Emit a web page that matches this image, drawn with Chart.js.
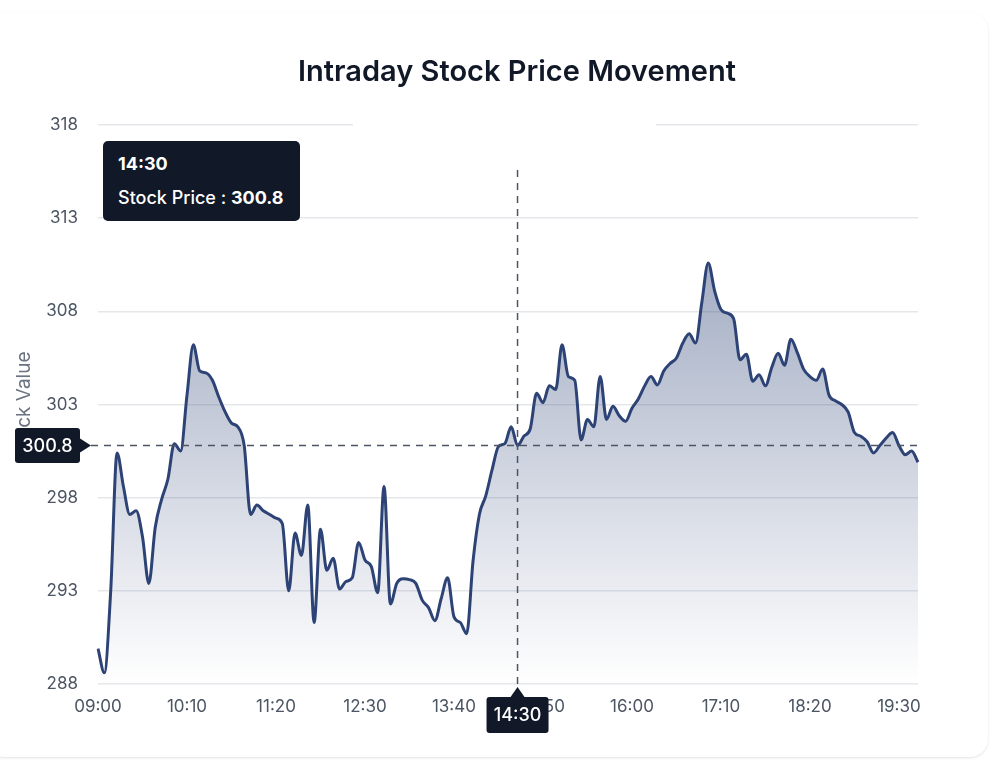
<!DOCTYPE html>
<html>
<head>
<meta charset="utf-8">
<title>Intraday Stock Price Movement</title>
<script src="https://cdn.jsdelivr.net/npm/chart.js@4.4.1/dist/chart.umd.min.js"></script>
<style>
  html, body { margin: 0; padding: 0; background: #fff; }
  body { width: 1000px; height: 760px; position: relative; overflow: hidden; font-family: Inter, "Noto Sans", sans-serif; }
  .card {
    position: absolute; left: -14px; top: 12px; width: 1002px; height: 745px;
    border-radius: 18px; background: #fff;
    box-shadow: 0 1px 3px rgba(0, 0, 0, 0.08), 0 1px 2px rgba(0, 0, 0, 0.04);
  }
  #priceChart { position: absolute; left: 0; top: 0; }
  #chart-tooltip {
    position: absolute; opacity: 0; pointer-events: none;
    background: #111827; color: #fff; border-radius: 5px;
    padding: 11px 16px 11px 15px; font-size: 18px; line-height: 24px; white-space: nowrap;
  }
  #chart-tooltip .tt-title { font-weight: 700; margin-bottom: 10px; }
  #chart-tooltip .tt-body { font-weight: 500; }
  #chart-tooltip .tt-body b { font-weight: 700; }
</style>
</head>
<body>
<div class="card"></div>
<canvas id="priceChart" width="1000" height="760"></canvas>
<div id="chart-tooltip"></div>
<script>
const CHART_TITLE = 'Intraday Stock Price Movement';
const Y_TITLE = 'Stock Value';
const SERIES_LABEL = 'Stock Price';

// 5-minute bars, 09:00 - 19:45
const times = [
  '09:00','09:05','09:10','09:15','09:20','09:25','09:30','09:35','09:40','09:45','09:50','09:55',
  '10:00','10:05','10:10','10:15','10:20','10:25','10:30','10:35','10:40','10:45','10:50','10:55',
  '11:00','11:05','11:10','11:15','11:20','11:25','11:30','11:35','11:40','11:45','11:50','11:55',
  '12:00','12:05','12:10','12:15','12:20','12:25','12:30','12:35','12:40','12:45','12:50','12:55',
  '13:00','13:05','13:10','13:15','13:20','13:25','13:30','13:35','13:40','13:45','13:50','13:55',
  '14:00','14:05','14:10','14:15','14:20','14:25','14:30','14:35','14:40','14:45','14:50','14:55',
  '15:00','15:05','15:10','15:15','15:20','15:25','15:30','15:35','15:40','15:45','15:50','15:55',
  '16:00','16:05','16:10','16:15','16:20','16:25','16:30','16:35','16:40','16:45','16:50','16:55',
  '17:00','17:05','17:10','17:15','17:20','17:25','17:30','17:35','17:40','17:45','17:50','17:55',
  '18:00','18:05','18:10','18:15','18:20','18:25','18:30','18:35','18:40','18:45','18:50','18:55',
  '19:00','19:05','19:10','19:15','19:20','19:25','19:30','19:35','19:40','19:45'
];

const prices = [
  289.9, 288.6, 293.0, 300.4, 298.6, 297.1, 297.3, 295.9, 293.4, 296.4, 297.9, 299.0,
  300.9, 300.5, 303.5, 306.2, 304.8, 304.7, 304.3, 303.4, 302.6, 302.0, 301.8, 300.8,
  297.1, 297.6, 297.3, 297.1, 296.9, 296.6, 293.0, 296.1, 294.9, 297.6, 291.3, 296.3,
  294.1, 294.75, 293.1, 293.5, 293.7, 295.6, 294.65, 294.3, 292.9, 298.6, 292.3, 293.4,
  293.65, 293.6, 293.4, 292.5, 292.1, 291.4, 292.6, 293.7, 291.6, 291.3, 290.7, 294.6,
  297.1, 298.1, 299.5, 300.75, 300.9, 301.8, 300.8, 301.3, 301.7, 303.6, 303.1, 304.0,
  303.8, 306.2, 304.5, 304.3, 301.1, 302.2, 301.8, 304.5, 302.2, 302.9, 302.4, 302.1,
  302.8, 303.3, 304.0, 304.5, 304.05, 304.8, 305.2, 305.5, 306.3, 306.8, 306.3, 308.5,
  310.6, 309.1, 308.1, 307.9, 307.6, 305.4, 305.7, 304.25, 304.6, 304.0, 305.0, 305.75,
  305.1, 306.5, 305.8, 304.9, 304.5, 304.3, 304.9, 303.5, 303.2, 303.0, 302.6, 301.5,
  301.3, 301.0, 300.4, 300.8, 301.2, 301.5, 300.8, 300.3, 300.5, 299.9
];

const xTickLabels = ['09:00', '10:10', '11:20', '12:30', '13:40', '14:50', '16:00', '17:10', '18:20', '19:30'];
const yTicks = [288, 293, 298, 303, 308, 313, 318];

// the hovered bar shown in the picture
const activeTime = '14:30';
const activeIndex = times.indexOf(activeTime);

const LINE_COLOR = '#2d4376';
const BADGE_BG = '#111827';
const qs = (id) => document.getElementById(id);

Chart.defaults.font.family = 'Inter, "Noto Sans", sans-serif';
Chart.defaults.color = '#4b5563';

/**
 * Vertical gradient under the line.
 */
function areaGradient(context) {
    const { ctx, chartArea } = context.chart;
    if (!chartArea) return 'rgba(45, 67, 118, 0.3)';
    const g = ctx.createLinearGradient(0, chartArea.top, 0, chartArea.bottom);
    g.addColorStop(0, 'rgba(45, 67, 118, 0.58)');
    g.addColorStop(1, 'rgba(45, 67, 118, 0.0)');
    return g;
}

/**
 * HTML tooltip, pinned to the top-left corner of the plot.
 */
function renderTooltip(context) {
    const { chart, tooltip } = context;
    const el = qs('chart-tooltip');
    if (!tooltip.dataPoints || !tooltip.dataPoints.length) {
        el.style.opacity = 0;
        return;
    }
    const point = tooltip.dataPoints[0];
    el.innerHTML = `
        <div class="tt-title">${point.label}</div>
        <div class="tt-body">${point.dataset.label} : <b>${point.formattedValue}</b></div>
    `;
    el.style.left = (chart.chartArea.left + 5) + 'px';
    el.style.top = (chart.chartArea.top + 16) + 'px';
    el.style.opacity = 1;
}

// small white gap in the top grid line, like in the source
const gridGapPlugin = {
    id: 'gridGap',
    beforeDatasetsDraw(chart) {
        const { ctx, chartArea } = chart;
        ctx.save();
        ctx.fillStyle = '#fff';
        ctx.fillRect(chartArea.left + 255, chartArea.top - 3, 303, 6);
        ctx.restore();
    }
};

const crosshairPlugin = {
    id: 'crosshair',
    afterDatasetsDraw(chart) {
        const { ctx, chartArea, scales: { x, y } } = chart;
        const px = x.getPixelForValue(activeIndex);
        const py = y.getPixelForValue(prices[activeIndex]);
        ctx.save();
        ctx.setLineDash([7, 6]);
        ctx.lineWidth = 1.5;
        ctx.strokeStyle = '#4b5563';
        ctx.beginPath();
        ctx.moveTo(px, chartArea.top + 45);
        ctx.lineTo(px, chartArea.bottom);
        ctx.moveTo(chartArea.left - 7, py);
        ctx.lineTo(chartArea.right, py);
        ctx.stroke();
        ctx.restore();
    }
};

function drawBadge(ctx, text, bx, by, bw, bh, arrow) {
    ctx.save();
    ctx.fillStyle = BADGE_BG;
    ctx.beginPath();
    ctx.roundRect(bx, by, bw, bh, 3);
    ctx.fill();
    ctx.beginPath();
    ctx.moveTo(arrow[0][0], arrow[0][1]);
    ctx.lineTo(arrow[1][0], arrow[1][1]);
    ctx.lineTo(arrow[2][0], arrow[2][1]);
    ctx.closePath();
    ctx.fill();
    ctx.fillStyle = '#fff';
    ctx.font = '500 18px Inter, "Noto Sans", sans-serif';
    ctx.textAlign = 'center';
    ctx.textBaseline = 'middle';
    ctx.fillText(text, bx + bw / 2, by + bh / 2 + 1);
    ctx.restore();
}

// value / time badges at the ends of the crosshair
const badgePlugin = {
    id: 'badges',
    afterDraw(chart) {
        const { ctx, chartArea, scales: { x, y } } = chart;
        const px = x.getPixelForValue(activeIndex);
        const py = y.getPixelForValue(prices[activeIndex]);

        const yRight = chartArea.left - 18;
        drawBadge(ctx, String(prices[activeIndex]), 15, py - 17.5, yRight - 15, 35,
            [[yRight, py - 7], [yRight, py + 7], [chartArea.left - 7, py]]);

        const top = chartArea.bottom + 13;
        drawBadge(ctx, activeTime, px - 31, top, 62, 36,
            [[px - 7, top], [px + 7, top], [px, chartArea.bottom + 3]]);
    }
};

const titlePlugin = {
    id: 'headerTitle',
    afterDraw(chart) {
        const { ctx } = chart;
        ctx.save();
        ctx.fillStyle = '#111827';
        ctx.font = '600 29px Inter, "Noto Sans", sans-serif';
        ctx.textAlign = 'center';
        ctx.textBaseline = 'middle';
        ctx.fillText(CHART_TITLE, 517, 72);
        ctx.restore();
    }
};

const chart = new Chart(qs('priceChart'), {
    type: 'line',
    data: {
        labels: times,
        datasets: [{
            label: SERIES_LABEL,
            data: prices,
            borderColor: LINE_COLOR,
            borderWidth: 3,
            backgroundColor: areaGradient,
            fill: 'start',
            cubicInterpolationMode: 'monotone',
            pointRadius: 0,
            pointHoverRadius: 0
        }]
    },
    options: {
        responsive: false,
        animation: false,
        events: [],
        layout: { padding: { left: 0, right: 82, top: 125, bottom: 36 } },
        scales: {
            x: {
                offset: false,
                grid: { display: false, drawTicks: false },
                border: { display: false },
                ticks: {
                    autoSkip: false,
                    maxRotation: 0,
                    padding: 13,
                    font: { size: 17 },
                    callback(value) {
                        const label = this.getLabelForValue(value);
                        return xTickLabels.includes(label) ? label : '';
                    }
                },
                afterFit(scale) { scale.height = 40; }
            },
            y: {
                min: yTicks[0],
                max: yTicks[yTicks.length - 1],
                grid: { color: '#e5e7eb', lineWidth: 1.5, drawTicks: false },
                border: { display: false },
                ticks: {
                    stepSize: yTicks[1] - yTicks[0],
                    padding: 20,
                    font: { size: 17 }
                },
                title: {
                    display: true,
                    text: Y_TITLE,
                    color: '#6b7280',
                    font: { size: 19 },
                    padding: { top: 13, bottom: 0 }
                },
                afterFit(scale) { scale.width = 98; }
            }
        },
        plugins: {
            legend: { display: false },
            title: { display: false },
            tooltip: {
                enabled: false,
                animation: false,
                external: renderTooltip
            }
        }
    },
    plugins: [gridGapPlugin, crosshairPlugin, badgePlugin, titlePlugin]
});

chart.tooltip.setActiveElements([{ datasetIndex: 0, index: activeIndex }], { x: 0, y: 0 });
chart.update();
</script>
</body>
</html>
